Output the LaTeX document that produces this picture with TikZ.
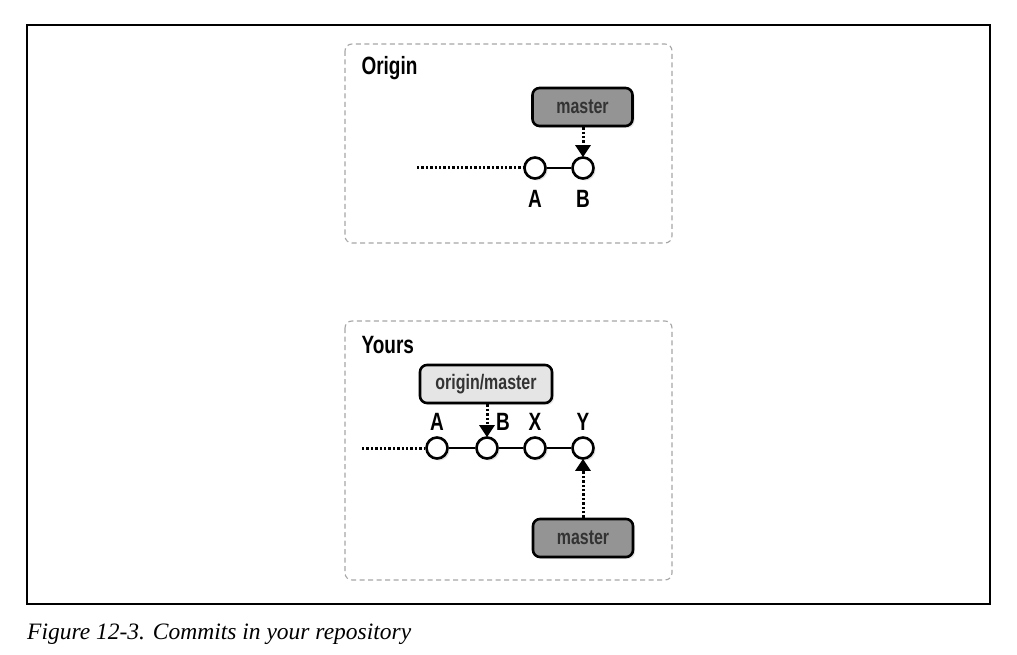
\documentclass[tikz,border=0pt]{standalone}
\usepackage{fontspec}
\usetikzlibrary{arrows.meta,shadows}
\newfontfamily\labelfont[FakeStretch=0.76]{Liberation Sans}
\newfontfamily\captionfont{Liberation Serif}
\tikzset{
  panel/.style={draw=black!35, dashed, dash pattern=on 5pt off 3.5pt, line width=1.1pt, rounded corners=7pt},
  commit/.style={circle, draw=black, line width=2.6pt, fill=white, minimum size=21pt, inner sep=0pt,
    drop shadow={shadow xshift=2pt, shadow yshift=-2pt, opacity=0.25}},
  branch/.style={draw=black, line width=2.6pt, rounded corners=7pt, minimum width=100pt, minimum height=38pt,
    font=\labelfont\bfseries\fontsize{21}{24}\selectfont, text=black!80,
    drop shadow={shadow xshift=2pt, shadow yshift=-2pt, opacity=0.2}},
  title/.style={font=\labelfont\bfseries\fontsize{25}{28}\selectfont, anchor=west},
  letter/.style={font=\labelfont\bfseries\fontsize{25}{28}\selectfont},
  link/.style={line width=2.2pt},
  history/.style={line width=3pt, dash pattern=on 2.4pt off 2pt},
  pointer/.style={line width=3pt, dash pattern=on 2.4pt off 2pt,
    -{Triangle[width=15pt,length=12pt]}, shorten >=-1pt},
}
\begin{document}
\begin{tikzpicture}[x=1pt,y=-1pt]
\useasboundingbox (0,0) rectangle (1017,655);
\fill[white] (0,0) rectangle (1017,655);
% outer frame
\draw[line width=1.2pt] (27,25) rectangle (990,604);

% ---- Origin repository ----
\draw[panel] (345,44) rectangle (672,243);
\node[title] (otitle) at (358,68) {Origin};
\node[branch, fill=black!42] (omaster) at (582.5,107) {master};
\node[commit] (oA) at (535,168) {};
\node[commit] (oB) at (583,168) {};
\coordinate (ostart) at (417,168);
\draw[history] (ostart) -- (oA.west);
\draw[link] (oA) -- (oB);
\draw[pointer] (omaster.south -| oB) -- (oB.north);
\node[letter] (oAl) at (535,199) {A};
\node[letter] (oBl) at (583,199) {B};

% ---- Your repository ----
\draw[panel] (345,321) rectangle (672,580);
\node[title] (ytitle) at (358,345) {Yours};
\node[branch, fill=black!10, minimum width=132pt] (yorigin) at (486,384) {origin/master};
\node[commit] (yA) at (437,448) {};
\node[commit] (yB) at (487,448) {};
\node[commit] (yX) at (535,448) {};
\node[commit] (yY) at (583,448) {};
\coordinate (ystart) at (362,448);
\draw[history] (ystart) -- (yA.west);
\draw[link] (yA) -- (yB) -- (yX) -- (yY);
\node[branch, fill=black!42] (ymaster) at (583,538) {master};
\draw[pointer] (yorigin.south -| yB) -- (yB.north);
\draw[pointer] (ymaster.north) -- (yY.south);
\node[letter] (yAl) at (437,422) {A};
\node[letter] (yBl) at (503,422) {B};
\node[letter] (yXl) at (535,422) {X};
\node[letter] (yYl) at (583,422) {Y};

% caption
\node[anchor=base west, font=\captionfont\itshape\fontsize{23.5}{27}\selectfont, inner sep=0pt]
  (caption) at (27,639) {Figure 12-3. Commits in your repository};
\end{tikzpicture}
\end{document}
